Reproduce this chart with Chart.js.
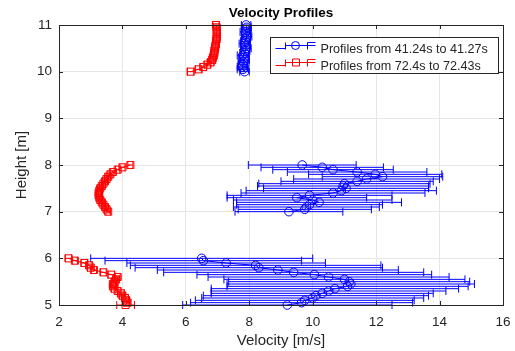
<!DOCTYPE html>
<html>
<head>
<meta charset="utf-8">
<script src="https://cdn.jsdelivr.net/npm/chart.js@4.4.0/dist/chart.umd.min.js"></script>
<style>
html, body { margin: 0; padding: 0; background: #fff; }
canvas { display: block; }
</style>
</head>
<body>
<canvas id="profileChart" width="515" height="351"></canvas>
<script>
// Axis ticks
const xTicks = [2, 4, 6, 8, 10, 12, 14, 16];
const yTicks = [5, 6, 7, 8, 9, 10, 11];

// Measurement heights [m]
const heightsLow = [5.00, 5.05, 5.10, 5.15, 5.20, 5.25, 5.30, 5.35, 5.40, 5.45, 5.50, 5.55, 5.60, 5.65, 5.70, 5.75, 5.80, 5.85, 5.90, 5.95, 6.00];
const heightsMid = [7.00, 7.05, 7.10, 7.15, 7.20, 7.25, 7.30, 7.35, 7.40, 7.45, 7.50, 7.55, 7.60, 7.65, 7.70, 7.75, 7.80, 7.85, 7.90, 7.95, 8.00];
const heightsTop = [10.00, 10.05, 10.10, 10.15, 10.20, 10.25, 10.30, 10.35, 10.40, 10.45, 10.50, 10.55, 10.60, 10.65, 10.70, 10.75, 10.80, 10.85, 10.90, 10.95, 11.00];

// Profiles from 41.24s to 41.27s (blue)
const blueLow = [9.2, 9.65, 9.75, 10.0, 10.1, 10.3, 10.5, 10.7, 11.1, 11.2, 11.15, 11.0, 10.5, 10.05, 9.4, 8.9, 8.3, 8.2, 7.27, 6.55, 6.5];
const blueLowErr = [3.3, 3.5, 3.45, 3.5, 3.55, 3.5, 3.7, 3.9, 3.8, 3.9, 3.8, 3.8, 3.8, 3.7, 4.1, 3.8, 3.9, 3.95, 3.13, 3.1, 3.5];
const blueMid = [9.25, 9.75, 9.8, 9.9, 10.2, 10.0, 9.5, 9.9, 10.64, 10.9, 11.05, 10.96, 11.0, 11.4, 11.7, 12.2, 11.97, 11.4, 10.64, 10.3, 9.67];
const blueMidErr = [1.7, 2.1, 2.3, 2.3, 2.6, 2.5, 2.2, 2.6, 2.9, 3.0, 2.6, 2.7, 2.7, 2.4, 2.3, 1.9, 2.1, 2.2, 1.9, 1.93, 1.7];
const blueTop = [7.85, 7.8, 7.78, 7.8, 7.82, 7.85, 7.83, 7.8, 7.85, 7.88, 7.9, 7.88, 7.85, 7.87, 7.9, 7.92, 7.9, 7.88, 7.9, 7.92, 7.9];
const blueTopErr = [0.15, 0.18, 0.16, 0.15, 0.17, 0.15, 0.16, 0.18, 0.15, 0.14, 0.16, 0.15, 0.17, 0.15, 0.14, 0.16, 0.15, 0.17, 0.15, 0.14, 0.15];

// Profiles from 72.4s to 72.43s (red)
const redLow = [4.1, 4.15, 4.12, 4.08, 4.0, 3.95, 3.85, 3.75, 3.7, 3.7, 3.75, 3.8, 3.85, 3.65, 3.4, 3.1, 3.0, 2.95, 2.8, 2.5, 2.3];
const redLowErr = [0.28, 0.12, 0.1, 0.1, 0.09, 0.1, 0.08, 0.1, 0.09, 0.08, 0.1, 0.09, 0.08, 0.1, 0.09, 0.08, 0.1, 0.09, 0.1, 0.08, 0.1];
const redMid = [3.55, 3.5, 3.45, 3.4, 3.35, 3.3, 3.27, 3.25, 3.25, 3.27, 3.3, 3.35, 3.4, 3.45, 3.5, 3.55, 3.62, 3.7, 3.85, 4.0, 4.25];
const redMidErr = [0.07, 0.08, 0.07, 0.07, 0.08, 0.07, 0.07, 0.08, 0.07, 0.07, 0.08, 0.07, 0.07, 0.08, 0.07, 0.07, 0.08, 0.07, 0.07, 0.08, 0.08];
const redTop = [6.15, 6.4, 6.55, 6.68, 6.78, 6.83, 6.85, 6.88, 6.9, 6.9, 6.92, 6.93, 6.95, 6.95, 6.97, 6.97, 6.98, 6.98, 6.97, 6.97, 6.95];
const redTopErr = [0.1, 0.1, 0.1, 0.1, 0.1, 0.1, 0.1, 0.1, 0.1, 0.1, 0.1, 0.1, 0.1, 0.1, 0.1, 0.1, 0.1, 0.1, 0.1, 0.1, 0.1];

const FONT = "'Liberation Sans', Arial, Helvetica, sans-serif";
const AXIS_COLOR = '#262626';

// join profile segments with a gap so the line breaks between them
function buildPoints(groups) {
    const pts = [];
    groups.forEach(([xs, ys], g) => {
        if (g > 0) pts.push({ x: null, y: null });
        xs.forEach((v, i) => pts.push({ x: v, y: ys[i] }));
    });
    return pts;
}

function buildErrors(groups) {
    const errs = [];
    groups.forEach((e, g) => {
        if (g > 0) errs.push(null);
        errs.push(...e);
    });
    return errs;
}

const errorBarPlugin = {
    id: 'errorBars',
    beforeDatasetsDraw(chart) {
        const { ctx, scales: { x, y } } = chart;
        ctx.save();
        chart.data.datasets.forEach(ds => {
            ctx.strokeStyle = ds.borderColor;
            ctx.lineWidth = 1;
            ds.data.forEach((p, i) => {
                const e = ds.xErr[i];
                if (p.x === null || e === null) return;
                const py = y.getPixelForValue(p.y);
                const xl = x.getPixelForValue(p.x - e);
                const xr = x.getPixelForValue(p.x + e);
                ctx.beginPath();
                ctx.moveTo(xl, py); ctx.lineTo(xr, py);
                ctx.moveTo(xl, py - 4); ctx.lineTo(xl, py + 4);
                ctx.moveTo(xr, py - 4); ctx.lineTo(xr, py + 4);
                ctx.stroke();
            });
        });
        ctx.restore();
    }
};

const framePlugin = {
    id: 'frame',
    afterDraw(chart) {
        const { ctx, chartArea: a, scales: { x, y } } = chart;
        ctx.save();
        ctx.strokeStyle = AXIS_COLOR;
        ctx.lineWidth = 1;
        ctx.beginPath();
        ctx.rect(Math.round(a.left) + 0.5, Math.round(a.top) + 0.5, Math.round(a.right - a.left), Math.round(a.bottom - a.top));
        // inward tick marks
        xTicks.forEach(v => {
            const px = Math.round(x.getPixelForValue(v)) + 0.5;
            ctx.moveTo(px, a.bottom); ctx.lineTo(px, a.bottom - 4);
            ctx.moveTo(px, a.top); ctx.lineTo(px, a.top + 4);
        });
        yTicks.forEach(v => {
            const py = Math.round(y.getPixelForValue(v)) + 0.5;
            ctx.moveTo(a.left, py); ctx.lineTo(a.left + 4, py);
            ctx.moveTo(a.right, py); ctx.lineTo(a.right - 4, py);
        });
        ctx.stroke();

        // legend box, top right inside the axes
        const bw = 228, bh = 36;
        const bx = Math.round(a.right - 5 - bw) + 0.5;
        const by = Math.round(a.top + 12) + 0.5;
        ctx.fillStyle = '#fff';
        ctx.fillRect(bx, by, bw, bh);
        ctx.strokeStyle = AXIS_COLOR;
        ctx.strokeRect(bx, by, bw, bh);
        ctx.font = '12.6px ' + FONT;
        ctx.textBaseline = 'middle';
        chart.data.datasets.forEach((ds, i) => {
            const cy = by + 11 + i * 17;
            const gy = cy - 3;
            const x0 = bx + 5;
            ctx.strokeStyle = ds.borderColor;
            ctx.beginPath();
            ctx.moveTo(x0, gy + 3); ctx.lineTo(x0 + 10, gy + 3);
            ctx.moveTo(x0 + 10, gy - 3); ctx.lineTo(x0 + 10, gy + 4);
            ctx.moveTo(x0 + 10, gy); ctx.lineTo(x0 + 40, gy);
            ctx.moveTo(x0 + 32, gy - 3); ctx.lineTo(x0 + 32, gy + 4);
            ctx.moveTo(x0 + 32, gy - 3); ctx.lineTo(x0 + 40, gy - 3);
            ctx.stroke();
            ctx.beginPath();
            if (ds.pointStyle === 'rect') {
                ctx.rect(x0 + 17, gy - 3.5, 7, 7);
            } else {
                ctx.arc(x0 + 20, gy, 4, 0, Math.PI * 2);
            }
            ctx.stroke();
            ctx.fillStyle = AXIS_COLOR;
            ctx.fillText(ds.label, bx + 50, cy + 1);
        });
        ctx.restore();
    }
};

new Chart(document.getElementById('profileChart'), {
    type: 'scatter',
    data: {
        datasets: [
            {
                label: 'Profiles from 41.24s to 41.27s',
                data: buildPoints([[blueTop, heightsTop], [blueMid, heightsMid], [blueLow, heightsLow]]),
                xErr: buildErrors([blueTopErr, blueMidErr, blueLowErr]),
                borderColor: '#0000ff',
                pointStyle: 'circle',
                pointRadius: 4.3
            },
            {
                label: 'Profiles from 72.4s to 72.43s',
                data: buildPoints([[redTop, heightsTop], [redMid, heightsMid], [redLow, heightsLow]]),
                xErr: buildErrors([redTopErr, redMidErr, redLowErr]),
                borderColor: '#ff0000',
                pointStyle: 'rect',
                pointRadius: 5
            }
        ]
    },
    options: {
        responsive: false,
        animation: false,
        layout: { padding: { left: 0, right: 12, top: 0, bottom: 0 } },
        datasets: {
            scatter: {
                showLine: true,
                spanGaps: false,
                borderWidth: 1,
                pointBorderWidth: 1,
                pointBackgroundColor: 'rgba(0,0,0,0)',
                pointHoverRadius: 5,
                clip: false
            }
        },
        plugins: {
            legend: { display: false },
            tooltip: { enabled: false },
            title: {
                display: true,
                fullSize: false,
                text: 'Velocity Profiles',
                color: '#000',
                font: { family: FONT, size: 13.5, weight: 'bold' },
                padding: { top: 5, bottom: 3.8 }
            }
        },
        scales: {
            x: {
                type: 'linear',
                min: 2, max: 16,
                afterBuildTicks: s => { s.ticks = xTicks.map(v => ({ value: v })); },
                afterFit: s => { s.height = 46; s.paddingLeft = 0; s.paddingRight = 0; },
                grid: { color: '#e6e6e6', drawTicks: false },
                border: { color: AXIS_COLOR },
                ticks: { color: AXIS_COLOR, padding: 9, font: { family: FONT, size: 13.5 } },
                title: {
                    display: true, text: 'Velocity [m/s]', color: AXIS_COLOR,
                    font: { family: FONT, size: 15 }, padding: { top: 0, bottom: 1 }
                }
            },
            y: {
                type: 'linear',
                min: 5, max: 11,
                afterBuildTicks: s => { s.ticks = yTicks.map(v => ({ value: v })); },
                afterFit: s => { s.width = 59; s.paddingTop = 0; s.paddingBottom = 0; },
                grid: { color: '#e6e6e6', drawTicks: false },
                border: { color: AXIS_COLOR },
                ticks: { color: AXIS_COLOR, padding: 7, font: { family: FONT, size: 13.5 } },
                title: {
                    display: true, text: 'Height [m]', color: AXIS_COLOR,
                    font: { family: FONT, size: 15 }, padding: { top: 13, bottom: 0 }
                }
            }
        }
    },
    plugins: [errorBarPlugin, framePlugin]
});
</script>
</body>
</html>
